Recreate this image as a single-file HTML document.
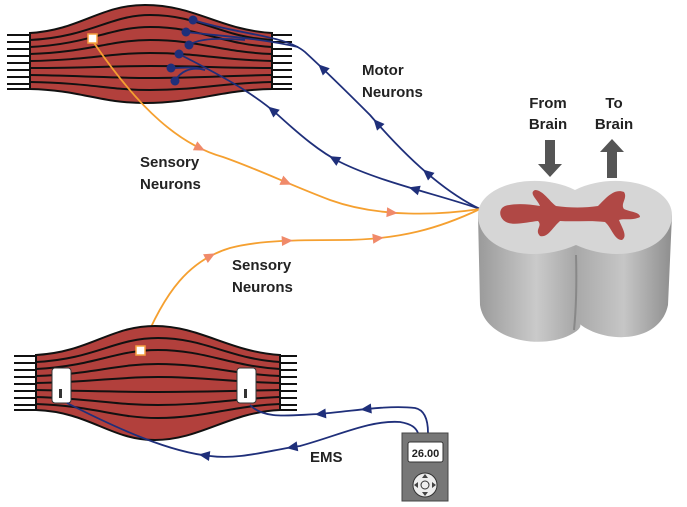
<!DOCTYPE html>
<html><head><meta charset="utf-8"><style>
html,body{margin:0;padding:0;background:#fff;}
svg{display:block;font-family:"Liberation Sans",Arial,sans-serif;}
text{font-weight:bold;fill:#222;font-size:15px;}
</style></head><body>
<svg id="svg" width="687" height="507" viewBox="0 0 687 507">
<defs>
<linearGradient id="cyl" x1="0" x2="1"><stop offset="0" stop-color="#9a9a9a"/><stop offset=".3" stop-color="#cacaca"/><stop offset=".5" stop-color="#a8a8a8"/><stop offset=".75" stop-color="#c6c6c6"/><stop offset="1" stop-color="#8e8e8e"/></linearGradient>
</defs>

<g>
<g stroke="#111" stroke-width="2">
<line x1="7" y1="35" x2="292" y2="35"/><line x1="7" y1="42" x2="292" y2="42"/><line x1="7" y1="49" x2="292" y2="49"/><line x1="7" y1="56" x2="292" y2="56"/><line x1="7" y1="63" x2="292" y2="63"/><line x1="7" y1="70" x2="292" y2="70"/><line x1="7" y1="77" x2="292" y2="77"/><line x1="7" y1="84" x2="292" y2="84"/><line x1="7" y1="89" x2="292" y2="89"/>
</g>
<path d="M30,33 C80,30 100,5 145,5 C195,5 220,30 272,33 L272,89 C220,90 195,103 145,103 C100,103 80,90 30,89 Z" fill="#b2403c" stroke="#111" stroke-width="2"/>
<g fill="none" stroke="#111" stroke-width="2">
<path d="M30,40 C90,37 110,15 150,15 C200,15 220,37 272,40"/>
<path d="M30,47 C90,44 110,27 150,27 C200,27 220,44 272,47"/>
<path d="M30,54 C90,52 110,40 150,40 C200,40 220,52 272,54"/>
<path d="M30,61 C90,60 110,53 150,53 C200,53 220,60 272,61"/>
<path d="M30,68 C90,68 110,66 150,66 C200,66 220,68 272,68"/>
<path d="M30,75 C90,76 110,78 150,78 C200,78 220,76 272,75"/>
<path d="M30,82 C90,83 110,90 150,90 C200,90 220,83 272,82"/>
</g>
<rect x="88" y="34" width="9" height="9" fill="#fff" stroke="#f5a040" stroke-width="1.5"/>
</g>

<g fill="none" stroke="#1f2f7a" stroke-width="1.8">
<path id="mA" d="M193,20 C240,35 285,35 305,52 C330,75 350,95 370,115 C400,150 440,190 480,209"/>
<path d="M186,32 C220,36 260,38 298,47"/>
<path d="M189,45 C200,38 220,38 245,40"/>
<path id="mB" d="M179,54 C210,70 250,90 278,115 C300,135 320,152 340,162 C380,182 440,195 480,209"/>
<path d="M171,68 C185,68 195,66 205,70"/>
<path d="M175,81 C180,72 190,66 205,70"/>
</g>
<g fill="#1f2f7a">
<circle cx="193" cy="20" r="4.5"/><circle cx="186" cy="32" r="4.5"/><circle cx="189" cy="45" r="4.5"/><circle cx="179" cy="54" r="4.5"/><circle cx="171" cy="68" r="4.5"/><circle cx="175" cy="81" r="4.5"/>
</g>

<g fill="none" stroke="#f5a030" stroke-width="1.8">
<path id="sA" d="M94,43 C140,110 180,145 223,157 C260,170 290,185 330,200 C380,218 440,215 480,209"/>
<path id="sB" d="M141,350 C165,290 190,260 230,248 C260,240 300,240 340,240 C400,240 440,228 480,209"/>
</g>

<text x="362" y="75">Motor</text>
<text x="362" y="97">Neurons</text>
<text x="140" y="167">Sensory</text>
<text x="140" y="189">Neurons</text>
<text x="232" y="270">Sensory</text>
<text x="232" y="292">Neurons</text>

<g>
<path d="M478,215 L480,305 C485,340 540,350 570,335 C590,325 575,320 575,320 C600,345 660,345 668,305 L672,215 Z" fill="url(#cyl)"/>
<path d="M576,255 C577,290 576,310 574,330" stroke="#888" stroke-width="2" fill="none"/>
<path d="M478,215 C478,185 535,170 575,190 C615,170 672,185 672,215 C672,250 620,265 576,245 C530,265 478,250 478,215 Z" fill="#d6d6d6"/>
<path d="M505,206 C515,203 528,204 540,206 C538,200 528,193 535,190 C543,190 550,202 556,206 C570,208 585,208 598,206 C606,198 614,188 624,192 C628,198 620,204 624,209 C630,212 640,212 640,217 C632,221 624,218 619,220 C622,228 628,236 622,240 C614,240 612,228 605,222 C590,220 575,222 560,221 C552,228 548,238 540,236 C534,230 543,226 538,221 C528,222 513,226 506,222 C499,218 498,209 505,206 Z" fill="#b04845"/>
</g>
<g fill="#555">
<path d="M545,140 L555,140 L555,164 L562,164 L550,177 L538,164 L545,164 Z"/>
<path d="M607,178 L617,178 L617,152 L624,152 L612,139 L600,152 L607,152 Z"/>
</g>
<text x="548" y="108" text-anchor="middle">From</text>
<text x="548" y="129" text-anchor="middle">Brain</text>
<text x="614" y="108" text-anchor="middle">To</text>
<text x="614" y="129" text-anchor="middle">Brain</text>

<g>
<g stroke="#111" stroke-width="2">
<line x1="14" y1="356" x2="297" y2="356"/><line x1="14" y1="363" x2="297" y2="363"/><line x1="14" y1="370" x2="297" y2="370"/><line x1="14" y1="377" x2="297" y2="377"/><line x1="14" y1="384" x2="297" y2="384"/><line x1="14" y1="391" x2="297" y2="391"/><line x1="14" y1="398" x2="297" y2="398"/><line x1="14" y1="405" x2="297" y2="405"/><line x1="14" y1="410" x2="297" y2="410"/>
</g>
<path d="M36,355 C90,352 110,326 155,326 C200,326 230,352 280,355 L280,410 C230,412 200,440 155,440 C110,440 90,412 36,410 Z" fill="#b2403c" stroke="#111" stroke-width="2"/>
<g fill="none" stroke="#111" stroke-width="2">
<path d="M36,362 C95,359 115,338 158,338 C205,338 230,359 280,362"/>
<path d="M36,369 C95,366 115,350 158,350 C205,350 230,366 280,369"/>
<path d="M36,376 C95,374 115,364 158,364 C205,364 230,374 280,376"/>
<path d="M36,383 C95,382 115,377 158,377 C205,377 230,382 280,383"/>
<path d="M36,390 C95,391 115,392 158,392 C205,392 230,391 280,390"/>
<path d="M36,397 C95,399 115,405 158,405 C205,405 230,399 280,397"/>
<path d="M36,404 C95,406 115,418 158,418 C205,418 230,406 280,404"/>
</g>
<rect x="136" y="346" width="9" height="9" fill="#fff" stroke="#f5a040" stroke-width="1.5"/>
<rect x="52" y="368" width="19" height="35" rx="3" fill="#fff" stroke="#333"/>
<rect x="59" y="389" width="3" height="9" fill="#333"/>
<rect x="237" y="368" width="19" height="35" rx="3" fill="#fff" stroke="#333"/>
<rect x="244" y="389" width="3" height="9" fill="#333"/>
</g>

<g fill="none" stroke="#1f2f7a" stroke-width="1.8">
<path id="eA" d="M250,405 C265,420 290,415 320,414 C360,410 390,405 415,408 C425,410 428,420 428,433"/>
<path id="eB" d="M67,403 C120,430 170,452 210,456 C240,460 270,450 300,446 C340,435 370,420 400,422 C412,424 416,428 418,433"/>
</g>
<text x="310" y="462">EMS</text>

<g>
<rect x="402" y="433" width="46" height="68" fill="#777" stroke="#444"/>
<rect x="408" y="442" width="35" height="20" rx="2" fill="#fff" stroke="#333"/>
<text x="425.5" y="457" text-anchor="middle" style="font-size:11px">26.00</text>
<circle cx="425" cy="485" r="12" fill="#eee" stroke="#333"/>
<circle cx="425" cy="485" r="4" fill="#eee" stroke="#333"/>
<path d="M425,474 L422,478 L428,478z M425,496 L422,492 L428,492z M414,485 L418,482 L418,488z M436,485 L432,482 L432,488z" fill="#444"/>
</g>
<g id="arrows"></g>
</svg>
<script>
// arrowhead placements: path id, fraction along path, direction (+1 forward, -1 backward), colour
const arrowPaths = ["mA","mA","mA","mB","mB","mB","sA","sA","sA","sB","sB","sB","eA","eA","eB","eB"];
const arrowFracs = [0.40,0.62,0.82,0.32,0.55,0.80,0.34,0.55,0.80,0.30,0.50,0.73,0.37,0.60,0.40,0.64];
const arrowDirs  = [-1,-1,-1,-1,-1,-1,1,1,1,1,1,1,-1,-1,-1,-1];
const arrowCols  = ["#1f2f7a","#1f2f7a","#1f2f7a","#1f2f7a","#1f2f7a","#1f2f7a","#f08a6a","#f08a6a","#f08a6a","#f08a6a","#f08a6a","#f08a6a","#1f2f7a","#1f2f7a","#1f2f7a","#1f2f7a"];
const NS="http://www.w3.org/2000/svg";
const g=document.getElementById('arrows');
arrowPaths.forEach((id,i)=>{
  const p=document.getElementById(id);
  const L=p.getTotalLength();
  const t=arrowFracs[i]*L;
  const a=p.getPointAtLength(t), b=p.getPointAtLength(Math.min(L,t+1)), c=p.getPointAtLength(Math.max(0,t-1));
  let ang=Math.atan2(b.y-c.y,b.x-c.x)*180/Math.PI;
  if(arrowDirs[i]<0) ang+=180;
  const el=document.createElementNS(NS,'path');
  
  
  el.setAttribute('d','M6,0 L-5,-5 L-5,5 Z');
  el.setAttribute('fill',arrowCols[i]);
  el.setAttribute('transform','translate('+a.x+','+a.y+') rotate('+ang+')');
  g.appendChild(el);
});
</script>
</body></html>
